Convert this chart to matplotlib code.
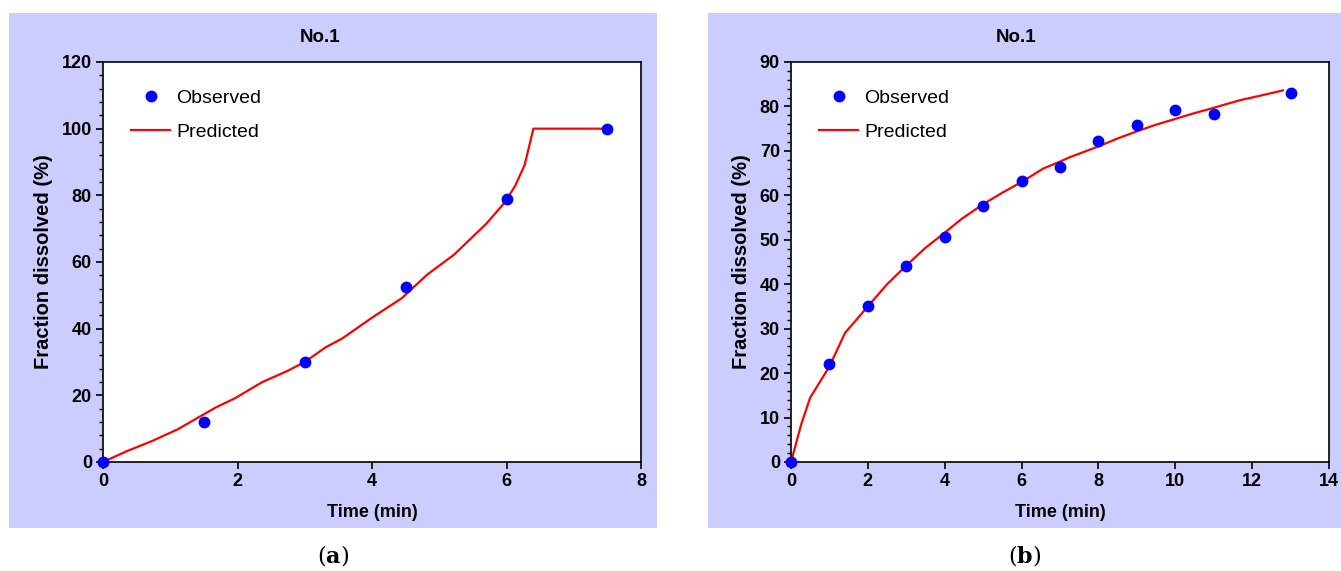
import numpy as np
import matplotlib
matplotlib.use('Agg')
import matplotlib.pyplot as plt
from matplotlib.patches import Rectangle
from matplotlib.ticker import MultipleLocator

plt.rcParams['font.family'] = ['Liberation Sans', 'DejaVu Sans']
plt.rcParams['mathtext.fontset'] = 'dejavuserif'

# panel (a) data
obs_t_a = [0, 1.5, 3, 4.5, 6, 7.5]
obs_v_a = [0, 12, 30, 52.5, 79, 100]
pred_t_a = [0, 0.36, 0.73, 1.11, 1.49, 1.68, 1.96, 2.37, 2.74, 3.0, 3.31, 3.56,
            4.0, 4.44, 4.82, 5.22, 5.7, 5.98, 6.13, 6.27, 6.40, 7.5]
pred_v_a = [0, 3.3, 6.3, 9.8, 14.2, 16.4, 19.1, 24.0, 27.3, 30.0, 34.4, 37.1,
            43.3, 49.1, 56.2, 62.2, 71.5, 78.0, 82.9, 89.1, 100, 100]

# panel (b) data
obs_t_b = [0, 1, 2, 3, 4, 5, 6, 7, 8, 9, 10, 11, 13]
obs_v_b = [0, 22.1, 35.2, 44.2, 50.7, 57.5, 63.2, 66.3, 72.2, 75.9, 79.1, 78.4, 83.1]
pred_t_b = [0, 0.27, 0.5, 1, 1.41, 2, 2.5, 3, 3.5, 4, 4.44, 5, 5.5, 6, 6.56, 7,
            7.26, 8, 8.5, 9, 9.5, 10, 10.5, 11, 11.68, 12.2, 12.8]
pred_v_b = [0, 8.6, 14.5, 21.5, 29.1, 35.0, 40.0, 44.2, 48.2, 51.6, 54.7, 58.0,
            60.6, 63.0, 66.0, 67.6, 68.6, 71.0, 72.8, 74.4, 75.9, 77.2, 78.5,
            79.7, 81.4, 82.4, 83.6]

W, H = 1341, 571
fig = plt.figure(figsize=(W / 100, H / 100), dpi=100)
lav = '#CCCCFF'


def px_box(x0, y0, x1, y1):
    return [x0 / W, 1 - y1 / H, (x1 - x0) / W, (y1 - y0) / H]


def panel(bg, axbox, t_obs, v_obs, t_pred, v_pred, xmax, xstep, ymax, ystep,
          yminor, title_x, cap_x, cap):
    b = px_box(*bg)
    fig.patches.append(Rectangle((b[0], b[1]), b[2], b[3], transform=fig.transFigure,
                                 facecolor=lav, edgecolor='none', zorder=-5))
    ax = fig.add_axes(px_box(*axbox))
    ax.plot(t_pred, v_pred, color='red', lw=1.6, label='Predicted', zorder=2)
    ax.plot(t_obs, v_obs, 'o', color='blue', ms=7.5, mec='blue', label='Observed',
            zorder=3, clip_on=False)
    ax.set_xlim(0, xmax)
    ax.set_ylim(0, ymax)
    ax.xaxis.set_major_locator(MultipleLocator(xstep))
    ax.yaxis.set_major_locator(MultipleLocator(ystep))
    ax.yaxis.set_minor_locator(MultipleLocator(yminor))
    ax.tick_params(direction='out', length=5, width=1.2, labelsize=13, pad=3)
    ax.tick_params(which='minor', direction='out', length=3, width=1)
    for lbl in ax.get_xticklabels() + ax.get_yticklabels():
        lbl.set_fontweight('bold')
    for s in ax.spines.values():
        s.set_linewidth(1.2)
    ax.set_xlabel('Time (min)', fontsize=13, fontweight='bold', labelpad=10)
    ax.set_ylabel('Fraction dissolved (%)', fontsize=14.5, fontweight='bold', labelpad=6)
    h, l = ax.get_legend_handles_labels()
    ax.legend(h[::-1], l[::-1], loc='upper left', bbox_to_anchor=(0.02, 0.975),
              frameon=False, fontsize=14, numpoints=1, handlelength=2.0,
              handletextpad=0.3, labelspacing=0.85)
    fig.text(title_x / W, 1 - 38 / H, 'No.1', fontsize=13.5, fontweight='bold',
             ha='center', va='center')
    fig.text(cap_x / W, 1 - 556 / H, r'($\mathbf{%s}$)' % cap, fontsize=16,
             family='DejaVu Serif', ha='center', va='center')
    return ax


panel((9, 13, 657, 528), (103, 62, 641, 462), obs_t_a, obs_v_a, pred_t_a, pred_v_a,
      8, 2, 120, 20, 4, 320, 333, 'a')
panel((708, 13, 1341, 528), (791, 62, 1329, 462), obs_t_b, obs_v_b, pred_t_b, pred_v_b,
      14, 2, 90, 10, 2, 1016, 1025, 'b')

fig.savefig('out.png', dpi=100)
